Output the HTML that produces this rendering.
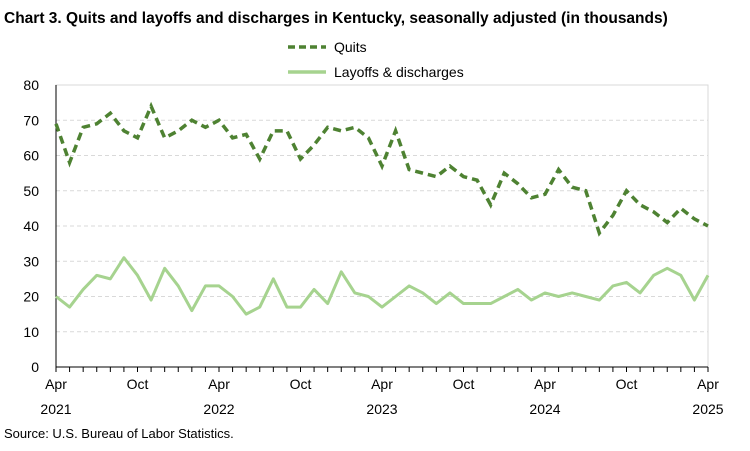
<!DOCTYPE html>
<html><head><meta charset="utf-8"><style>
body{margin:0;background:#fff;font-family:"Liberation Sans",Arial,sans-serif;}
svg text{font-family:"Liberation Sans",Arial,sans-serif;}
</style></head><body>
<svg id="chart" width="750" height="446" xmlns="http://www.w3.org/2000/svg">
<text x="4" y="23" font-size="15.5" font-weight="bold" fill="#000">Chart 3. Quits and layoffs and discharges in Kentucky, seasonally adjusted (in thousands)</text>
<g>
<line x1="288" y1="47" x2="326" y2="47" stroke="#4e8232" stroke-width="3.5" stroke-dasharray="7,4"/>
<text x="334" y="52" font-size="14" fill="#000">Quits</text>
<line x1="288" y1="72" x2="326" y2="72" stroke="#a6d38f" stroke-width="3.5"/>
<text x="334" y="77" font-size="14" fill="#000">Layoffs &amp; discharges</text>
</g>
<g id="grid"></g><g id="axes"></g><g id="series"></g>
<text x="4" y="438" font-size="13" fill="#000">Source: U.S. Bureau of Labor Statistics.</text>
</svg>
<script>
const quits=[69,58,68,69,72,67,65,74,65,67,70,68,70,65,66,59,67,67,59,63,68,67,68,65,57,67,56,55,54,57,54,53,46,55,52,48,49,56,51,50,38,43,50,46,44,41,45,42,40];
const layoffs=[20,17,22,26,25,31,26,19,28,23,16,23,23,20,15,17,25,17,17,22,18,27,21,20,17,20,23,21,18,21,18,18,18,20,22,19,21,20,21,20,19,23,24,21,26,28,26,19,26];
const yTicks=[0,10,20,30,40,50,60,70,80];
const xLabels=[[0,"Apr","2021"],[6,"Oct",""],[12,"Apr","2022"],[18,"Oct",""],[24,"Apr","2023"],[30,"Oct",""],[36,"Apr","2024"],[42,"Oct",""],[48,"Apr","2025"]];
const X0=56,X1=708,Y0=367,Y1=85,N=48;
const x=i=>X0+(X1-X0)*i/N, y=v=>Y0-(Y0-Y1)*v/80;
const ns="http://www.w3.org/2000/svg";
function mk(t,a,p){const e=document.createElementNS(ns,t);for(const k in a)e.setAttribute(k,a[k]);p.appendChild(e);return e;}
const g=document.getElementById('grid'),ax=document.getElementById('axes'),s=document.getElementById('series');
mk('rect',{x:X0,y:Y1,width:X1-X0,height:Y0-Y1,fill:'none',stroke:'#d9d9d9'},g);
yTicks.forEach(v=>{
 if(v>0&&v<80){const l=mk('line',{x1:X0,x2:X1,y1:y(v),y2:y(v),stroke:'#d9d9d9','stroke-dasharray':'4,3'},g);
 
 }
 const t=mk('text',{x:39,y:y(v)+5,'font-size':14,'text-anchor':'end'},ax);t.textContent=v;
 
 
});
mk('line',{x1:X0,x2:X0,y1:Y1,y2:Y0,stroke:'#000'},ax);
mk('line',{x1:X0,x2:X1,y1:Y0,y2:Y0,stroke:'#000'},ax);
for(let i=0;i<=N;i++)mk('line',{x1:x(i),x2:x(i),y1:Y0,y2:Y0+5,stroke:'#000'},ax);
xLabels.forEach(([i,m,yr])=>{
 const t=mk('text',{x:x(i),y:389,'font-size':14,'text-anchor':'middle'},ax);t.textContent=m;
 
 
 if(yr){const u=mk('text',{x:x(i),y:414,'font-size':14,'text-anchor':'middle'},ax);u.textContent=yr;
 
 }
});
const lp=mk('polyline',{points:layoffs.map((v,i)=>x(i)+','+y(v)).join(' '),fill:'none',stroke:'#a6d38f','stroke-width':3,'stroke-linejoin':'round'},s);


const qp=mk('polyline',{points:quits.map((v,i)=>x(i)+','+y(v)).join(' '),fill:'none',stroke:'#4e8232','stroke-width':3.5,'stroke-dasharray':'8,5'},s);


</script>
</body></html>
